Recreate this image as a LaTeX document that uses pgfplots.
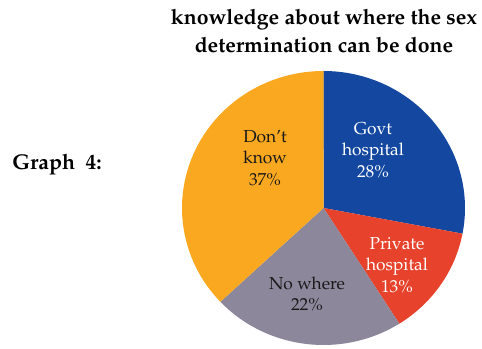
\documentclass[border=0pt]{standalone}
\usepackage[T1]{fontenc}
\usepackage{mathpazo}
\usepackage{pgfplots}
\pgfplotsset{compat=1.18}
\definecolor{cgovt}{RGB}{20,72,160}
\definecolor{cpriv}{RGB}{230,66,44}
\definecolor{cnowh}{RGB}{140,135,155}
\definecolor{cdont}{RGB}{250,168,32}
\begin{document}
\begin{tikzpicture}
% shares in percent (clockwise from 12 o'clock)
\pgfmathsetmacro{\vG}{28}
\pgfmathsetmacro{\vP}{13}
\pgfmathsetmacro{\vN}{22}
\pgfmathsetmacro{\vD}{37}
\pgfmathsetmacro{\aA}{90}
\pgfmathsetmacro{\aB}{\aA-3.6*\vG}
\pgfmathsetmacro{\aC}{\aB-3.6*\vP}
\pgfmathsetmacro{\aD}{\aC-3.6*\vN}
\pgfmathsetmacro{\aE}{\aD-3.6*\vD}
\def\cx{323.5}\def\cy{141}\def\rx{141.5}\def\ry{137}
\begin{axis}[
  width=361.5pt, height=261.75pt, scale only axis,
  xmin=0, xmax=482, ymin=0, ymax=349,
  hide axis, clip=false,
]
\path (axis cs:0,0) rectangle (axis cs:482,349);
\addplot[fill=cgovt, draw=none, domain=\aB:\aA, samples=80]
  ({\cx+\rx*cos(x)},{\cy+\ry*sin(x)}) -- (axis cs:\cx,\cy) -- cycle;
\addplot[fill=cpriv, draw=none, domain=\aC:\aB, samples=40]
  ({\cx+\rx*cos(x)},{\cy+\ry*sin(x)}) -- (axis cs:\cx,\cy) -- cycle;
\addplot[fill=cnowh, draw=none, domain=\aD:\aC, samples=60]
  ({\cx+\rx*cos(x)},{\cy+\ry*sin(x)}) -- (axis cs:\cx,\cy) -- cycle;
\addplot[fill=cdont, draw=none, domain=\aE:\aD, samples=100]
  ({\cx+\rx*cos(x)},{\cy+\ry*sin(x)}) -- (axis cs:\cx,\cy) -- cycle;

\node[font=\fontsize{15.9}{20}\selectfont\bfseries, align=center] at (axis cs:324,318)
  {knowledge about where the sex\\[1pt]determination can be done};
\node[font=\fontsize{16}{18}\selectfont\bfseries] at (axis cs:57,184) {Graph~ 4:};

\node[font=\fontsize{13}{16}\selectfont, text=white, align=center] at (axis cs:373,199)
  {Govt\\hospital\\28\%};
\node[font=\fontsize{13}{16}\selectfont, text=white, align=center] at (axis cs:397,84)
  {Private\\hospital\\13\%};
\node[font=\fontsize{13}{16}\selectfont, text=black!90, align=center] at (axis cs:307,55)
  {No where\\22\%};
\node[font=\fontsize{13}{16}\selectfont, text=black!90, align=center] at (axis cs:265,191)
  {Don't\\know\\37\%};
\end{axis}
\end{tikzpicture}
\end{document}
